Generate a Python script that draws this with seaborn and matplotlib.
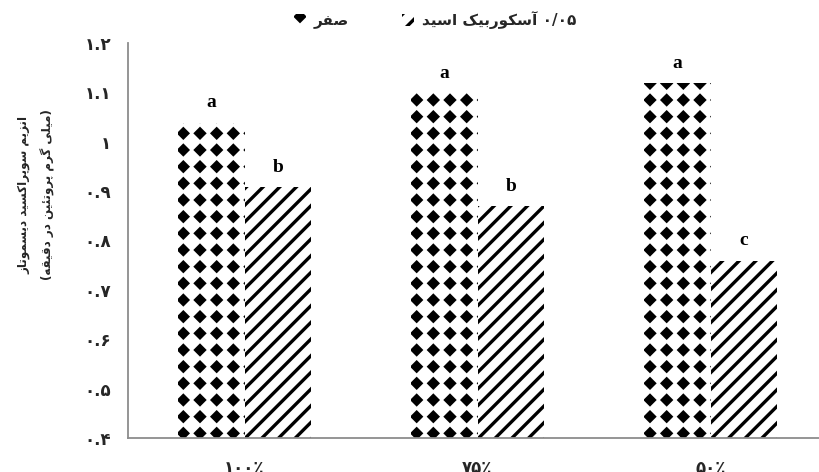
import re
import warnings
import numpy as np
import pandas as pd
import matplotlib
matplotlib.use("Agg")
import matplotlib.pyplot as plt
import matplotlib.hatch as mhatch
from matplotlib.path import Path
from matplotlib.patches import Patch
from matplotlib.font_manager import FontProperties
import seaborn as sns

warnings.filterwarnings("ignore")

# ---------------- data ----------------
levels = ["۱۰۰٪", "۷۵٪", "۵۰٪"]
treatments = ["صفر", "۰/۰۵ آسکوربیک اسید"]
control_values = [1.038, 1.098, 1.118]
ascorbic_values = [0.907, 0.869, 0.759]
control_letters = ["a", "a", "a"]
ascorbic_letters = ["b", "b", "c"]
ytick_values = [0.4, 0.5, 0.6, 0.7, 0.8, 0.9, 1.0, 1.1, 1.2]
ytick_labels = ["۰.۴", "۰.۵", "۰.۶", "۰.۷", "۰.۸", "۰.۹", "۱", "۱.۱", "۱.۲"]
ylabel_lines = ["انزیم سوپراکسید دیسموتاز", "(میلی گرم پروتئین در دقیقه)"]

# ---------------- minimal Arabic/Persian shaping + RTL ordering ----------------
FORMS = {
    "ا": ("\uFE8D", "\uFE8E", None, None),
    "آ": ("\uFE81", "\uFE82", None, None),
    "ب": ("\uFE8F", "\uFE90", "\uFE91", "\uFE92"),
    "پ": ("\uFB56", "\uFB57", "\uFB58", "\uFB59"),
    "ت": ("\uFE95", "\uFE96", "\uFE97", "\uFE98"),
    "د": ("\uFEA9", "\uFEAA", None, None),
    "ر": ("\uFEAD", "\uFEAE", None, None),
    "ز": ("\uFEAF", "\uFEB0", None, None),
    "س": ("\uFEB1", "\uFEB2", "\uFEB3", "\uFEB4"),
    "ص": ("\uFEB9", "\uFEBA", "\uFEBB", "\uFEBC"),
    "ف": ("\uFED1", "\uFED2", "\uFED3", "\uFED4"),
    "ق": ("\uFED5", "\uFED6", "\uFED7", "\uFED8"),
    "ک": ("\uFB8E", "\uFB8F", "\uFB90", "\uFB91"),
    "گ": ("\uFB92", "\uFB93", "\uFB94", "\uFB95"),
    "ل": ("\uFEDD", "\uFEDE", "\uFEDF", "\uFEE0"),
    "م": ("\uFEE1", "\uFEE2", "\uFEE3", "\uFEE4"),
    "ن": ("\uFEE5", "\uFEE6", "\uFEE7", "\uFEE8"),
    "ه": ("\uFEE9", "\uFEEA", "\uFEEB", "\uFEEC"),
    "و": ("\uFEED", "\uFEEE", None, None),
    "ی": ("\uFBFC", "\uFBFD", "\uFBFE", "\uFBFF"),
    "ئ": ("\uFE89", "\uFE8A", "\uFE8B", "\uFE8C"),
}


def rtl(s):
    out = []
    n = len(s)
    for i, c in enumerate(s):
        if c not in FORMS:
            out.append(c)
            continue
        prev = s[i - 1] if i > 0 else ""
        nxt = s[i + 1] if i + 1 < n else ""
        p = prev in FORMS and FORMS[prev][2] is not None
        q = FORMS[c][2] is not None and nxt in FORMS
        iso, fin, ini, med = FORMS[c]
        out.append(med if (p and q) else fin if p else ini if q else iso)
    shaped = "".join(out)
    tokens = re.findall(r"[0-9۰-۹]+(?:[./][0-9۰-۹]+)*|[^0-9۰-۹]", shaped)
    mirror = {"(": ")", ")": "("}
    return "".join(mirror.get(t, t) for t in reversed(tokens))


# ---------------- custom diamond-grid hatch ----------------
class DiamondGrid(mhatch.HatchPatternBase):
    size = 0.26

    def __init__(self, hatch, density):
        self.num_rows = hatch.count("d") * density
        self.num_shapes = (self.num_rows + 1) ** 2 if self.num_rows else 0
        self.num_vertices = self.num_shapes * 5

    def set_vertices_and_codes(self, vertices, codes):
        off = 1.0 / self.num_rows
        r = off * self.size
        shape = np.array([[0, r], [r, 0], [0, -r], [-r, 0], [0, r]])
        pos = np.linspace(0, 1, self.num_rows + 1)
        k = 0
        for yv in pos:
            for xv in pos:
                vertices[k:k + 5] = shape + [xv, yv]
                codes[k:k + 5] = [Path.MOVETO, Path.LINETO, Path.LINETO,
                                  Path.LINETO, Path.CLOSEPOLY]
                k += 5


mhatch._hatch_types.append(DiamondGrid)

# ---------------- plot ----------------
sns.set_style("white")
plt.rcParams["font.family"] = ["DejaVu Sans"]
plt.rcParams["hatch.linewidth"] = 2.4

df = pd.DataFrame({
    "level": levels * 2,
    "treatment": [treatments[0]] * 3 + [treatments[1]] * 3,
    "value": control_values + ascorbic_values,
})

fig = plt.figure(figsize=(8.19, 4.72), dpi=100)
ax = fig.add_axes([128 / 819, 1 - 438 / 472, 3 * 233 / 819, (438 - 42.7) / 472])

sns.barplot(data=df, x="level", y="value", hue="treatment", order=levels,
            hue_order=treatments, palette=["white", "white"], saturation=1,
            width=0.57, edgecolor="black", linewidth=0, legend=False, ax=ax)

hatches = ["d", "//"]
letters = [control_letters, ascorbic_letters]
for cont, h, lets in zip(ax.containers, hatches, letters):
    for bar, lt in zip(cont, lets):
        bar.set_hatch(h)
        bar.set_edgecolor("black")
        bar.set_linewidth(0)
        ax.annotate(lt, (bar.get_x() + bar.get_width() / 2, bar.get_height()),
                    xytext=(0, 11), textcoords="offset points", ha="center",
                    va="baseline", fontfamily="Liberation Serif",
                    fontweight="bold", fontsize=14, color="black")

ax.set_xlim(-0.5, 2.5)
ax.set_ylim(0.4, 1.2)
ax.set_yticks(ytick_values)
ax.set_yticklabels(ytick_labels, fontsize=12, fontweight="bold")
ax.set_xticks(range(len(levels)))
ax.set_xticklabels(levels, fontsize=12, fontweight="bold")
ax.set_xticks([-0.5, 0.5, 1.5, 2.5], minor=True)
ax.tick_params(axis="x", which="major", length=0, pad=15)
ax.tick_params(axis="x", which="minor", length=4.5, width=1.3, color="#8c8c8c",
               direction="out")
ax.tick_params(axis="y", length=4, width=1.3, color="#8c8c8c", direction="out",
               pad=8)
ax.set_xlabel("")
ax.set_ylabel("")
for side in ["top", "right"]:
    ax.spines[side].set_visible(False)
for side in ["left", "bottom"]:
    ax.spines[side].set_color("#8c8c8c")
    ax.spines[side].set_linewidth(1.3)

fp = FontProperties(family="DejaVu Sans", weight="bold", size=8.6)
fig.text(24 / 819, 1 - 195 / 472, rtl(ylabel_lines[0]), rotation=90,
         ha="center", va="center", fontproperties=fp)
fig.text(48 / 819, 1 - 195 / 472, rtl(ylabel_lines[1]), rotation=90,
         ha="center", va="center", fontproperties=fp)

handles = [Patch(facecolor="white", edgecolor="black", linewidth=0, hatch=h)
           for h in hatches]
fig.legend(handles, [rtl(t) for t in treatments], ncol=2, loc="center",
           bbox_to_anchor=(435 / 819, 1 - 20 / 472), frameon=False,
           handlelength=0.8, handleheight=0.8, handletextpad=0.5,
           columnspacing=3.5,
           prop=FontProperties(family="DejaVu Sans", weight="bold", size=11))

fig.savefig("out.png", dpi=100)
